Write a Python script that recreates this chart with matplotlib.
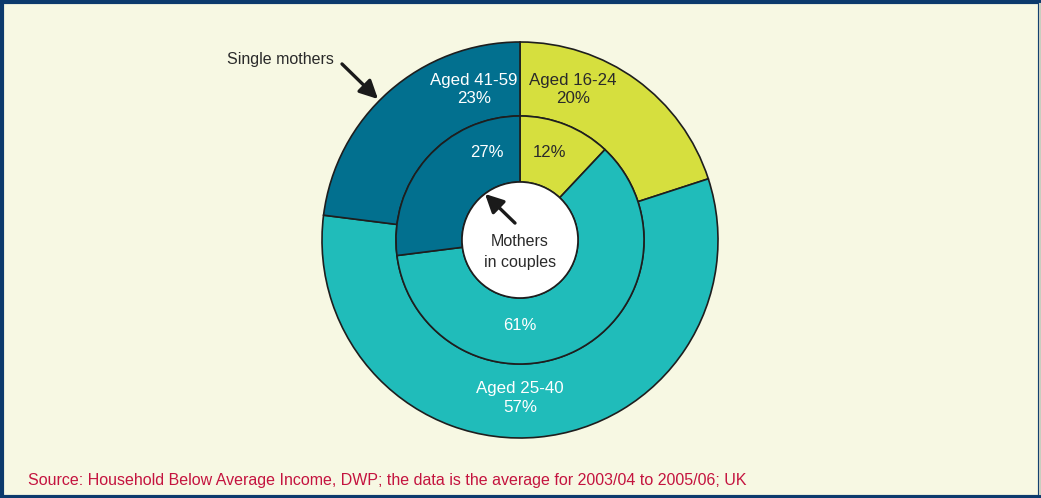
import matplotlib
matplotlib.use("Agg")
import matplotlib.pyplot as plt
from matplotlib.patches import Rectangle, Circle
import numpy as np

plt.rcParams['font.family'] = ['Liberation Sans', 'DejaVu Sans']

# data
groups = ["Aged 16-24", "Aged 25-40", "Aged 41-59"]
single_mothers = [20, 57, 23]
mothers_in_couples = [12, 61, 27]
colors = ["#d6df3e", "#20bcba", "#02708f"]
text_colors = ["#2a2a2a", "white", "white"]
source = "Source: Household Below Average Income, DWP; the data is the average for 2003/04 to 2005/06; UK"

W, H = 1041, 498
fig = plt.figure(figsize=(W / 100, H / 100), dpi=100)
fig.patch.set_facecolor("#f7f8e3")
ax = fig.add_axes([0, 0, 1, 1])

cx, cy = 520, H - 240
r_out, r_mid, r_in = 198, 124, 58
edge = dict(edgecolor="#1e1e1e", linewidth=1.2)

ax.pie(single_mothers, radius=r_out, center=(cx, cy), startangle=90,
       counterclock=False, colors=colors,
       wedgeprops=dict(width=r_out - r_mid, **edge))
ax.pie(mothers_in_couples, radius=r_mid, center=(cx, cy), startangle=90,
       counterclock=False, colors=colors,
       wedgeprops=dict(width=r_mid - r_in, **edge))
ax.add_patch(Circle((cx, cy), r_in, facecolor="white", edgecolor="#1e1e1e", linewidth=1.2, zorder=5))

ax.set_xlim(0, W)
ax.set_ylim(0, H)
ax.axis("off")

# label offsets from centre (pixels): outer then inner
outer_pos = [(53, 151), (0, -158), (-46, 151)]
inner_pos = [(30, 88), (0, -86), (-33, 88)]
for i in range(3):
    ox, oy = outer_pos[i]
    ax.text(cx + ox, cy + oy, f"{groups[i]}\n{single_mothers[i]}%", ha="center", va="center",
            fontsize=12.2, color=text_colors[i], linespacing=1.25, zorder=6)
    ix, iy = inner_pos[i]
    ax.text(cx + ix, cy + iy, f"{mothers_in_couples[i]}%", ha="center", va="center",
            fontsize=12, color=text_colors[i], zorder=6)

ax.text(cx, cy - 12, "Mothers\nin couples", ha="center", va="center", fontsize=11.5,
        color="#2a2a2a", linespacing=1.45, zorder=6)
ax.annotate("", xy=(483, H - 192), xytext=(517, H - 225),
            arrowprops=dict(arrowstyle="-|>,head_length=1.1,head_width=0.55", color="#1a1a1a", lw=2.4),
            zorder=7)

ax.text(280, H - 59, "Single mothers", ha="center", va="center", fontsize=11.5, color="#2a2a2a")
ax.annotate("", xy=(380, H - 101), xytext=(340, H - 62),
            arrowprops=dict(arrowstyle="-|>,head_length=1.1,head_width=0.55", color="#1a1a1a", lw=2.4),
            zorder=7)

ax.text(28, H - 481, source, ha="left", va="center", fontsize=11.5, color="#c4143f")

# frame
ax.add_patch(Rectangle((1.5, 1.5), W - 3, H - 3, fill=False, edgecolor="#0c3a6c", linewidth=3, clip_on=False))
ax.plot([W - 1.5, W - 1.5], [4, H - 4], color="#c9cdbf", lw=1.5)

fig.savefig("out.png", dpi=100, facecolor=fig.get_facecolor())
